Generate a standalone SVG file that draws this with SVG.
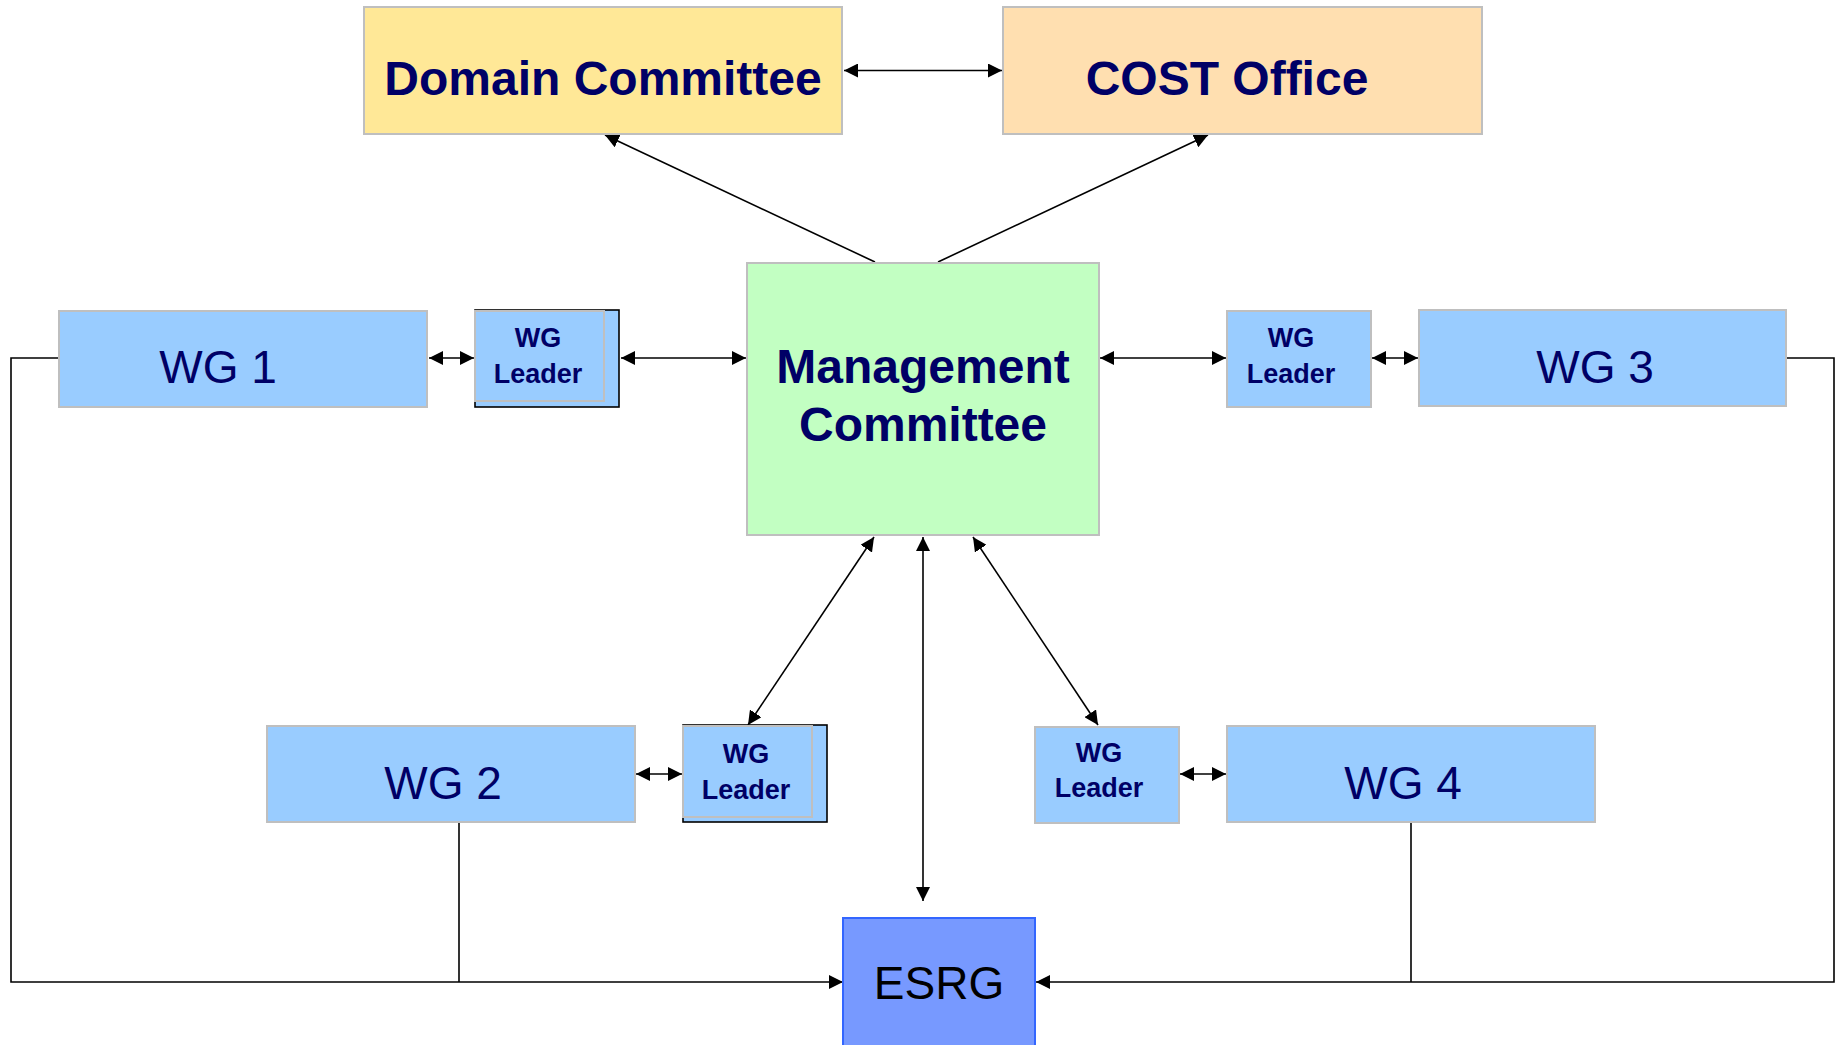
<svg xmlns="http://www.w3.org/2000/svg" width="1839" height="1045" viewBox="0 0 1839 1045">
<style>
.box{stroke:#bfbfbf;stroke-width:2}
.wg{fill:#99ccff}
.t{fill:#000066;font-family:"Liberation Sans",Arial,sans-serif;text-anchor:middle}
.b{font-weight:bold}
.big{font-size:48px}
.wgt{font-size:46px}
.ld{font-size:27px;font-weight:bold}
.c{fill:none;stroke:#000;stroke-width:1.6}
</style>
<defs>
<marker id="ah" viewBox="0 0 14 14" refX="14" refY="7" markerWidth="14" markerHeight="14" markerUnits="userSpaceOnUse" orient="auto-start-reverse">
<path d="M0,0 L14,7 L0,14 Z" fill="#000"/>
</marker>
</defs>
<rect width="1839" height="1045" fill="#fff"/>
<g id="connectors">
<line class="c" x1="844" y1="70.5" x2="1002" y2="70.5" marker-start="url(#ah)" marker-end="url(#ah)"/>
<line class="c" x1="875" y1="262" x2="605" y2="135" marker-end="url(#ah)"/>
<line class="c" x1="938" y1="262" x2="1208" y2="135" marker-end="url(#ah)"/>
<line class="c" x1="429" y1="358" x2="474" y2="358" marker-start="url(#ah)" marker-end="url(#ah)"/>
<line class="c" x1="621" y1="358" x2="746" y2="358" marker-start="url(#ah)" marker-end="url(#ah)"/>
<line class="c" x1="1100" y1="358" x2="1226" y2="358" marker-start="url(#ah)" marker-end="url(#ah)"/>
<line class="c" x1="1372" y1="358" x2="1418" y2="358" marker-start="url(#ah)" marker-end="url(#ah)"/>
<line class="c" x1="636" y1="774" x2="682" y2="774" marker-start="url(#ah)" marker-end="url(#ah)"/>
<line class="c" x1="1180" y1="774" x2="1226" y2="774" marker-start="url(#ah)" marker-end="url(#ah)"/>
<line class="c" x1="874" y1="537" x2="748" y2="725" marker-start="url(#ah)" marker-end="url(#ah)"/>
<line class="c" x1="973" y1="537" x2="1098" y2="725" marker-start="url(#ah)" marker-end="url(#ah)"/>
<line class="c" x1="923" y1="537" x2="923" y2="901" marker-start="url(#ah)" marker-end="url(#ah)"/>
<polyline class="c" points="58,358 11,358 11,982 843,982" marker-end="url(#ah)"/>
<line class="c" x1="459" y1="822" x2="459" y2="982"/>
<polyline class="c" points="1786,358 1834,358 1834,982 1036,982" marker-end="url(#ah)"/>
<line class="c" x1="1411" y1="822" x2="1411" y2="982"/>
</g>
<g id="domain-committee">
<rect class="box" x="364" y="7" width="478" height="127" fill="#ffe897"/>
<text class="t b big" x="603" y="95">Domain Committee</text>
</g>
<g id="cost-office">
<rect class="box" x="1003" y="7" width="479" height="127" fill="#ffdfb0"/>
<text class="t b big" x="1227" y="95">COST Office</text>
</g>
<g id="management-committee">
<rect class="box" x="747" y="263" width="352" height="272" fill="#c2ffc2"/>
<text class="t b big" x="923" y="383">Management</text>
<text class="t b big" x="923" y="441">Committee</text>
</g>
<g id="wg1">
<rect class="box wg" x="59" y="311" width="368" height="96"/>
<text class="t wgt" x="218" y="383">WG 1</text>
</g>
<g id="wg1-leader">
<rect x="475" y="310" width="144" height="97" fill="#99ccff" stroke="#000" stroke-width="1.6"/>
<rect class="box wg" x="475" y="311" width="129" height="90"/>
<text class="t ld" x="538" y="347">WG</text>
<text class="t ld" x="538" y="383">Leader</text>
</g>
<g id="wg3-leader">
<rect class="box wg" x="1227" y="311" width="144" height="96"/>
<text class="t ld" x="1291" y="347">WG</text>
<text class="t ld" x="1291" y="383">Leader</text>
</g>
<g id="wg3">
<rect class="box wg" x="1419" y="310" width="367" height="96"/>
<text class="t wgt" x="1595" y="383">WG 3</text>
</g>
<g id="wg2">
<rect class="box wg" x="267" y="726" width="368" height="96"/>
<text class="t wgt" x="443" y="799">WG 2</text>
</g>
<g id="wg2-leader">
<rect x="683" y="725" width="144" height="97" fill="#99ccff" stroke="#000" stroke-width="1.6"/>
<rect class="box wg" x="683" y="726" width="129" height="91"/>
<text class="t ld" x="746" y="763">WG</text>
<text class="t ld" x="746" y="799">Leader</text>
</g>
<g id="wg4-leader">
<rect class="box wg" x="1035" y="727" width="144" height="96"/>
<text class="t ld" x="1099" y="762">WG</text>
<text class="t ld" x="1099" y="797">Leader</text>
</g>
<g id="wg4">
<rect class="box wg" x="1227" y="726" width="368" height="96"/>
<text class="t wgt" x="1403" y="799">WG 4</text>
</g>
<g id="esrg">
<rect x="843" y="918" width="192" height="140" fill="#7799ff" stroke="#3366ff" stroke-width="2"/>
<text x="939" y="999" font-family="Liberation Sans, Arial, sans-serif" font-size="46" text-anchor="middle" fill="#000">ESRG</text>
</g>
</svg>
